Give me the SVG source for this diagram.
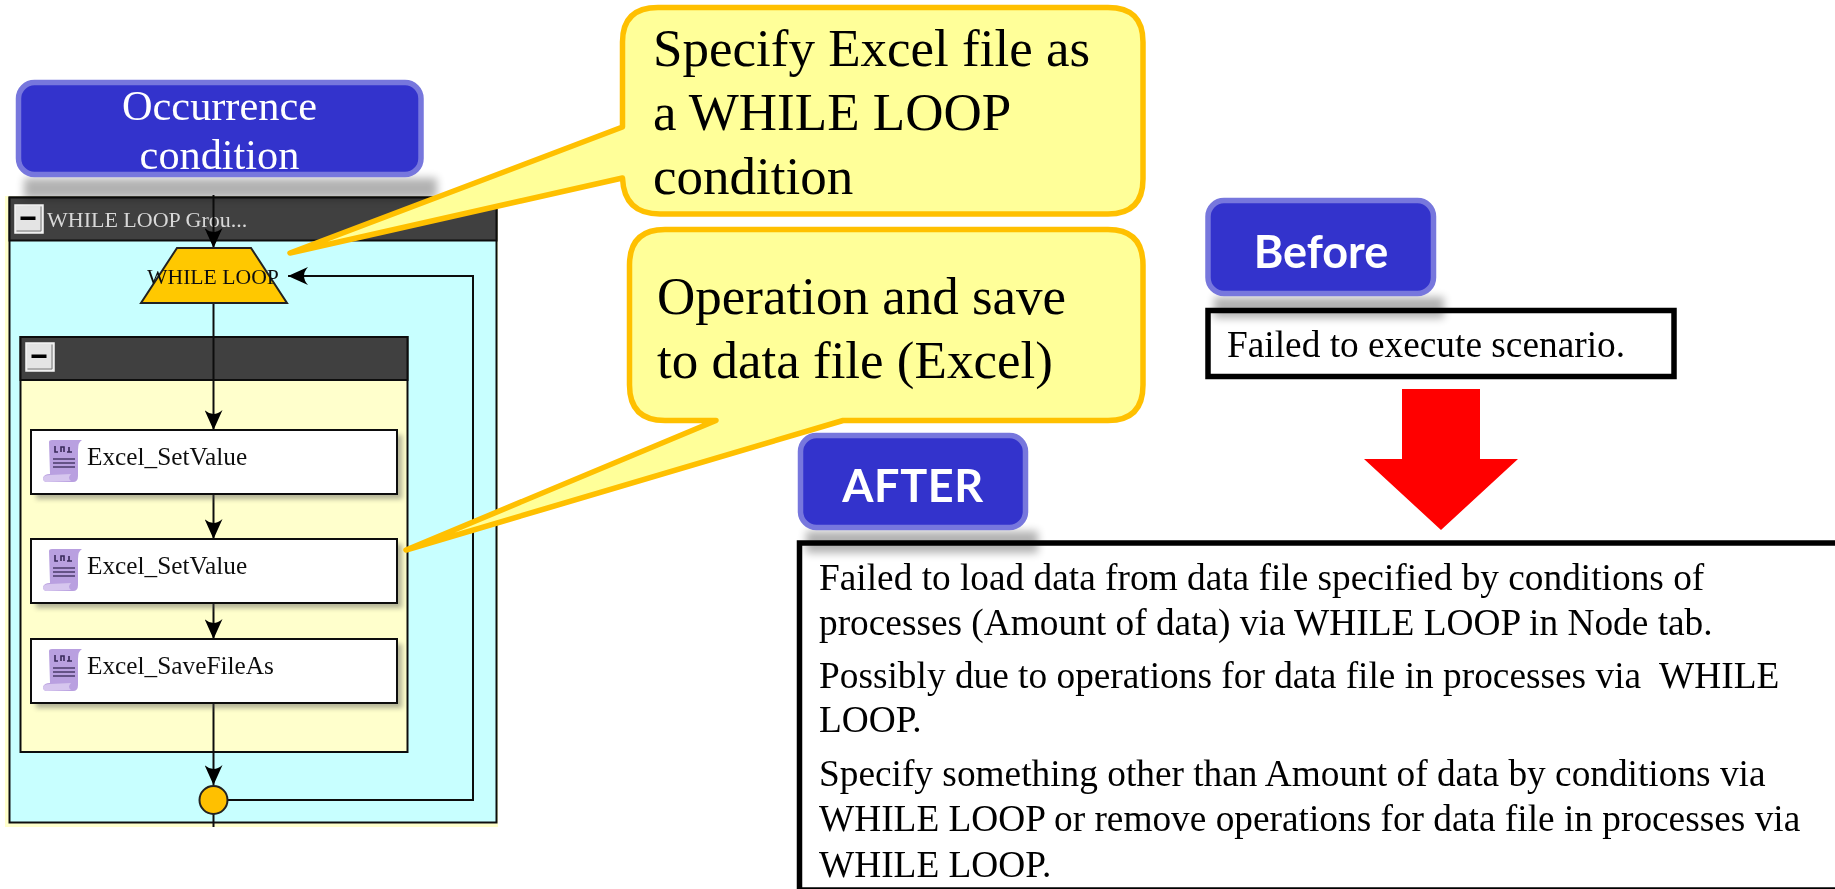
<svg xmlns="http://www.w3.org/2000/svg" xmlns:xlink="http://www.w3.org/1999/xlink" width="1835" height="889" viewBox="0 0 1835 889">
<defs>
<style>
text{font-family:"Liberation Serif","Times New Roman",serif;fill:#000}
.blue{fill:#3333cc;stroke:#7777dd;stroke-width:5.5}
.call{fill:#ffff99;stroke:#ffc000;stroke-width:5.5;stroke-linejoin:round}
.box{fill:#fff;stroke:#000;stroke-width:5.5}
.lbl{font-family:"Lato","Liberation Sans",sans-serif;font-weight:700;font-size:45px;fill:#fff;text-anchor:middle}
.occ{font-size:42.3px;fill:#fff;text-anchor:middle}
.big{font-size:53px}
.msg{font-size:37.35px}
.node{fill:#fff;stroke:#111;stroke-width:2}
.ntx{font-size:25.3px;fill:#111}
.conn{fill:none;stroke:#111;stroke-width:2;marker-end:url(#arr)}
.plain{fill:none;stroke:#111;stroke-width:2}
.hdr{fill:#404040;stroke:#111;stroke-width:2}
</style>
<filter id="soft" x="-10%" y="-10%" width="120%" height="120%"><feGaussianBlur stdDeviation="0.5"/></filter>
<filter id="shad" x="-20%" y="-100%" width="140%" height="300%"><feGaussianBlur stdDeviation="4"/></filter>
<filter id="nshad" x="-5%" y="-20%" width="110%" height="140%"><feGaussianBlur stdDeviation="2.5"/></filter>
<marker id="arr" markerUnits="userSpaceOnUse" markerWidth="20" markerHeight="18" refX="20" refY="9" orient="auto"><path d="M20,9 L0,0 Q8,9 0,18Z" fill="#000"/></marker>
<g id="minus"><rect x="0" y="0" width="28" height="28" fill="#e4e4e4" stroke="#f4f4f4" stroke-width="1.5"/><path d="M1.500,26 H26 V1.500" fill="none" stroke="#777" stroke-width="1"/><rect x="5.500" y="11.500" width="15" height="3.500" fill="#000"/></g>
<g id="scroll">
<path d="M6,2 Q6,0 9,0 L39,0 Q35,2 35,10 L35,36 Q35,42 30,42 L4,42 Q0,42 0,38 Q1,34 7,34 Z" fill="#b9a0e0"/>
<path d="M0,38 Q1,35 7,35 L28,34 Q24,38 28,41 L4,42 Q0,42 0,38Z" fill="#d6c6ee"/>
<path d="M10,19 H32 M10,23 H32 M10,27 H32" stroke="#4a3a6a" stroke-width="1.6" fill="none"/>
<path d="M12,6 V12 H15 M18,12 V7 L21,7 V12 M26,7 V12 M24,12 H29" stroke="#3a2a5a" stroke-width="1.6" fill="none"/>
</g>
</defs>
<rect width="1835" height="889" fill="#fff"/>

<g id="screenshot" filter="url(#soft)">
<g id="while-group">
<rect x="5" y="196" width="493" height="631" fill="#ffffcc"/>
<rect x="9.500" y="197.500" width="487" height="625" fill="#c8ffff" stroke="#111" stroke-width="2"/>
<rect x="9.500" y="197.500" width="487" height="43" class="hdr"/>
<use xlink:href="#minus" href="#minus" x="15" y="205"/>
<text x="47" y="227" font-size="22" style="fill:#d8d8d8">WHILE LOOP Grou...</text>
</g>
<g id="inner-group">
<rect x="20.500" y="337" width="387" height="415" fill="#ffffcc" stroke="#111" stroke-width="2"/>
<rect x="20.500" y="337" width="387" height="43" class="hdr"/>
<use xlink:href="#minus" href="#minus" x="26" y="343"/>
</g>
<g id="connectors">
<path class="conn" d="M213.500,195 V248"/>
<path class="conn" d="M213.500,303 V430"/>
<path class="conn" d="M213.500,494 V539"/>
<path class="conn" d="M213.500,603 V639"/>
<path class="conn" d="M213.500,703 V785"/>
<path class="conn" d="M227,800 H473 V276 H288"/>
<path class="plain" d="M213.500,814 V827"/>
</g>
<g id="while-loop">
<path d="M177,248 H251 L287,303 H141Z" fill="#ffc800" stroke="#222" stroke-width="2"/>
<text x="147" y="284" font-size="21.7" style="fill:#111">WHILE LOOP</text>
</g>
<g id="node1">
<rect x="36" y="435" width="366" height="64" fill="#555" opacity=".45" filter="url(#nshad)"/>
<rect class="node" x="31" y="430" width="366" height="64"/>
<use xlink:href="#scroll" href="#scroll" x="43" y="440"/>
<text class="ntx" x="87" y="465">Excel_SetValue</text>
</g>
<g id="node2">
<rect x="36" y="544" width="366" height="64" fill="#555" opacity=".45" filter="url(#nshad)"/>
<rect class="node" x="31" y="539" width="366" height="64"/>
<use xlink:href="#scroll" href="#scroll" x="43" y="549"/>
<text class="ntx" x="87" y="574">Excel_SetValue</text>
</g>
<g id="node3">
<rect x="36" y="644" width="366" height="64" fill="#555" opacity=".45" filter="url(#nshad)"/>
<rect class="node" x="31" y="639" width="366" height="64"/>
<use xlink:href="#scroll" href="#scroll" x="43" y="649"/>
<text class="ntx" x="87" y="674">Excel_SaveFileAs</text>
</g>
<g id="merge"><circle cx="213.500" cy="800" r="14" fill="#ffc000" stroke="#222" stroke-width="2"/></g>
</g>

<g id="occurrence">
<rect x="24" y="178" width="413" height="21" fill="#000" opacity=".3" filter="url(#shad)"/>
<rect class="blue" x="18.500" y="82.500" width="402.500" height="92" rx="16"/>
<text class="occ" x="219.500" y="120">Occurrence</text>
<text class="occ" x="219.500" y="169">condition</text>
</g>

<g id="callout1">
<path class="call" d="M622.500,127 L290,253 L622.500,178 Q624,214 660,214 H1108 Q1143,214 1143,179 V42 Q1143,7.500 1108,7.500 H658 Q622.500,7.500 622.500,42 Z"/>
<text class="big" x="653" y="66">Specify Excel file as</text>
<text class="big" x="653" y="130">a WHILE LOOP</text>
<text class="big" x="653" y="194">condition</text>
</g>
<g id="callout2">
<path class="call" d="M716,420.500 L406,550 L843,420.500 H1108 Q1143,420.500 1143,385 V265 Q1143,229.500 1108,229.500 H665 Q629.500,229.500 629.500,265 V385 Q629.500,420.500 665,420.500 Z"/>
<text class="big" x="657" y="314">Operation and save</text>
<text class="big" x="657" y="378">to data file (Excel)</text>
</g>

<g id="before-msg">
<rect class="box" x="1208" y="310.500" width="466" height="66"/>
<text class="msg" x="1227" y="357">Failed to execute scenario.</text>
</g>
<g id="before">
<rect x="1214" y="297" width="230" height="21" fill="#000" opacity=".3" filter="url(#shad)"/>
<rect class="blue" x="1208" y="200.500" width="225.500" height="93" rx="16"/>
<text class="lbl" x="1321" y="268">Before</text>
</g>
<g id="red-arrow"><path d="M1402,389 H1480 V459 H1518 L1441,530 L1364,459 H1402Z" fill="#ff0000"/></g>

<g id="after-msg">
<rect class="box" x="799.500" y="543" width="1045" height="347"/>
<text class="msg" x="819" y="590">Failed to load data from data file specified by conditions of</text>
<text class="msg" x="819" y="635">processes (Amount of data) via WHILE LOOP in Node tab.</text>
<text class="msg" x="819" y="688" xml:space="preserve">Possibly due to operations for data file in processes via  WHILE</text>
<text class="msg" x="819" y="732">LOOP.</text>
<text class="msg" x="819" y="786">Specify something other than Amount of data by conditions via</text>
<text class="msg" x="819" y="831">WHILE LOOP or remove operations for data file in processes via</text>
<text class="msg" x="819" y="877">WHILE LOOP.</text>
</g>
<g id="after">
<rect x="806" y="531" width="232" height="22" fill="#000" opacity=".3" filter="url(#shad)"/>
<rect class="blue" x="800.500" y="435.500" width="225" height="92" rx="16"/>
<text class="lbl" x="913" y="502" style="letter-spacing:.6px">AFTER</text>
</g>
</svg>
